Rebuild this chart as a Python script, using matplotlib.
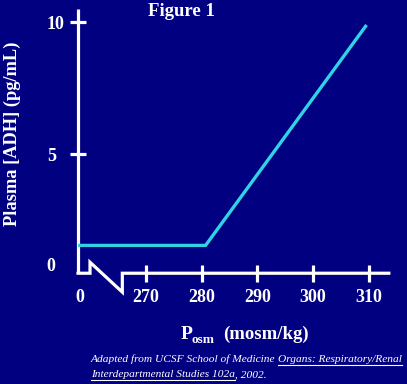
import matplotlib
matplotlib.use("Agg")
import matplotlib.pyplot as plt
from matplotlib.lines import Line2D

# ---- data ----
posm = [257.8, 280.7, 309.6]          # mosm/kg (first point = start at axis)
adh = [1.5, 1.5, 9.9]                 # pg/mL
x_ticks = [270, 280, 290, 300, 310]
x_ticklabels = ["270", "280", "290", "300", "310"]
y_ticks = [10, 5]
y_ticklabels = ["10", "5"]

BG = "#000080"
WHITE = "white"
CYAN = "#2ED3E6"
W = 407
H = 384

fig = plt.figure(figsize=(W / 100, H / 100), dpi=100, facecolor=BG)
ax = fig.add_axes([0, 0, 1, 1])
ax.set_facecolor(BG)
ax.set_xlim(243.79, 316.86)
ax.set_ylim(-3.78, 10.85)
ax.axis("off")

X0 = 257.8      # position of the (broken) origin
YB = 0.44       # baseline
serif = ["Liberation Serif", "DejaVu Serif"]

# y axis
ax.plot([X0, X0], [YB, 10.5], color=WHITE, lw=2.3, solid_capstyle="butt")
for t in y_ticks:
    ax.plot([X0 - 1.5, X0 + 1.5], [t, t], color=WHITE, lw=2.3, solid_capstyle="butt")
for t, lab in zip(y_ticks, y_ticklabels):
    ax.text(252.2, t - 0.1, lab, color=WHITE, fontsize=13, fontweight="bold",
            family=serif, ha="left", va="center")
ax.text(252.2, 0.71, "0", color=WHITE, fontsize=13, fontweight="bold",
        family=serif, ha="left", va="center")

# x axis with break
bx = [X0, 259.95, 259.95, 265.75, 265.75, 313.6]
by = [YB, YB, 0.86, -0.28, YB, YB]
ax.plot(bx, by, color=WHITE, lw=2.3, solid_joinstyle="miter")
for t in x_ticks:
    ax.plot([t, t], [YB - 0.33, YB + 0.33], color=WHITE, lw=2.3, solid_capstyle="butt")
for t, lab in zip(x_ticks, x_ticklabels):
    ax.text(t, -0.5, lab, color=WHITE, fontsize=13, fontweight="bold",
            family=serif, ha="center", va="center")
ax.text(X0 + 0.3, -0.5, "0", color=WHITE, fontsize=13, fontweight="bold",
        family=serif, ha="center", va="center")

# data line
ax.plot(posm, adh, color=CYAN, lw=2.4, solid_capstyle="butt")

# titles & labels
def fx(px):
    return px / W

def fy(py):
    return 1 - py / H

fig.text(fx(181), fy(11), "Figure 1", color=WHITE, fontsize=13.5, fontweight="bold",
         family=serif, ha="center", va="center")
fig.text(fx(12), fy(134), "Plasma [ADH] (pg/mL)", color=WHITE, fontsize=13.2,
         fontweight="bold", family=serif, ha="center", va="center", rotation=90)
fig.text(fx(181), fy(339), r"P", color=WHITE, fontsize=14, fontweight="bold",
         family=serif, ha="left", va="baseline")
fig.text(fx(192), fy(343), "osm", color=WHITE, fontsize=9.5, fontweight="bold",
         family=serif, ha="left", va="baseline")
fig.text(fx(223), fy(339), "(mosm/kg)", color=WHITE, fontsize=13.5, fontweight="bold",
         family=serif, ha="left", va="baseline")

# caption with underlined parts
renderer = fig.canvas.get_renderer()
cap_kw = dict(color=WHITE, fontsize=8.2, style="italic", family=serif,
              ha="left", va="baseline")

def cap_line(parts, x_px, y_px):
    x = x_px
    for txt, ul in parts:
        t = fig.text(fx(x), fy(y_px), txt, **cap_kw)
        bb = t.get_window_extent(renderer=renderer)
        if ul:
            fig.add_artist(Line2D([fx(x), fx(x + bb.width)],
                                  [fy(y_px + 2.5), fy(y_px + 2.5)],
                                  color=WHITE, lw=0.8, transform=fig.transFigure))
        x += bb.width

cap_line([("Adapted from UCSF School of Medicine ", False),
          ("Organs: Respiratory/Renal", True)], 91, 362)
cap_line([("Interdepartmental Studies 102a", True), (", 2002.", False)], 91, 377)

fig.savefig("out.png", dpi=100, facecolor=BG)
